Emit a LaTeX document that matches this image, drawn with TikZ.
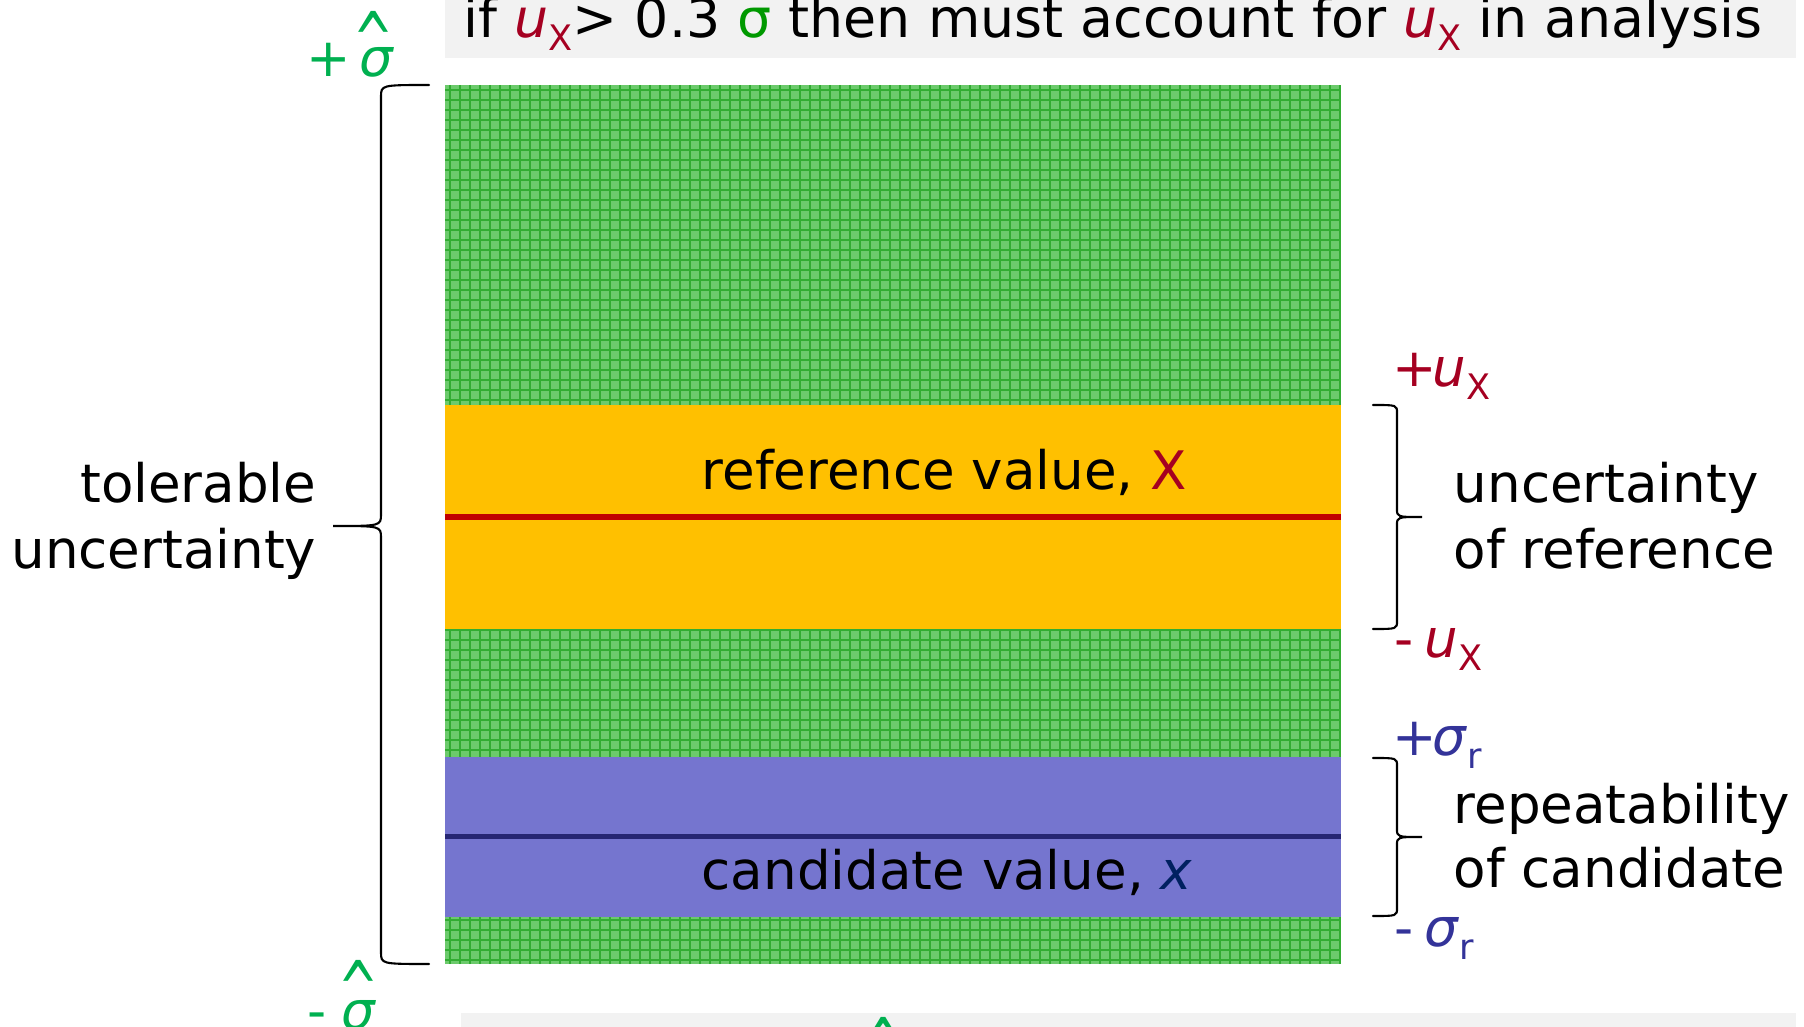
\documentclass[tikz,border=0pt]{standalone}
\usepackage{fontspec}
\setmainfont{DejaVu Sans}
\usepackage{xcolor}
\usepackage{graphicx}
\usepackage{tikz}
\usetikzlibrary{positioning}

\definecolor{bandgreen}{RGB}{108,202,108}
\definecolor{gridgreen}{RGB}{50,172,50}
\definecolor{bandorange}{RGB}{255,192,0}
\definecolor{bandblue}{RGB}{117,117,207}
\definecolor{refline}{RGB}{192,0,0}
\definecolor{candline}{RGB}{38,38,115}
\definecolor{uxred}{RGB}{165,0,33}
\definecolor{sigblue}{RGB}{51,51,153}
\definecolor{candnavy}{RGB}{0,32,96}
\definecolor{hatgreen}{RGB}{0,176,80}
\definecolor{sigmagreen}{RGB}{0,153,0}
\definecolor{bannergray}{RGB}{242,242,242}

\newcommand\lowsub[1]{\raisebox{-0.24em}{\fontsize{10}{10}\selectfont #1}}
\newcommand\hatmark{\scalebox{0.9}[1.45]{\textasciicircum}}
% end x, stem x, tip x, top y, middle y, bottom y, corner
\newcommand\bracepath[7]{%
  \draw[bracestyle] (#1,#4) .. controls (#2,#4) .. (#2,#4+#7) -- (#2,#5-#7)
    .. controls (#2,#5) .. (#3,#5) .. controls (#2,#5) .. (#2,#5+#7)
    -- (#2,#6-#7) .. controls (#2,#6) .. (#1,#6);}

\begin{document}
\begin{tikzpicture}[x=0.1mm, y=-0.1mm,
  lbl/.style={font=\fontsize{15.1}{18}\selectfont, inner sep=0pt},
  bracestyle/.style={line width=0.6pt, line cap=round}]
\useasboundingbox (0,0) rectangle (1804,1027);
\clip (0,0) rectangle (1804,1027);

% banners
\fill[bannergray] (445,-10) rectangle (1796,58);
\fill[bannergray] (461,1013) rectangle (1796,1040);

% bands
\fill[bandgreen] (445,85) rectangle (1341,964);
\draw[gridgreen, line width=0.2mm] (445,964) grid[step=1mm] (1341,85);
\fill[bandorange] (445,405) rectangle (1341,629);
\draw[refline, line width=0.6mm] (445,517) -- (1341,517);
\fill[bandblue] (445,757) rectangle (1341,917);
\draw[candline, line width=0.5mm] (445,836.5) -- (1341,836.5);

\node[lbl, font=\fontsize{15.3}{18}\selectfont, anchor=base west] (cond) at (463,38)
  {if \textcolor{uxred}{\textit{u}\lowsub{X}}> 0.3 \textcolor{sigmagreen}{σ} then must account for \textcolor{uxred}{\textit{u}\lowsub{X}} in analysis};

% sigma hat limits
\node[lbl, anchor=base west, text=hatgreen] (sigtop) at (306,77) {+\hspace{0.16em}\textit{σ}};
\node[lbl, anchor=base, text=hatgreen] (hattop) at (374,68) {\hatmark};
\node[lbl, anchor=base west, text=hatgreen] (sigbot) at (307,1030) {-\kern4.3pt\textit{σ}};
\node[lbl, anchor=base, text=hatgreen] (hatbot) at (359,1017) {\hatmark};
\node[lbl, anchor=base, text=hatgreen] (hatnote) at (884,1073) {\hatmark};

\node[lbl, anchor=base east] (tol) at (317,503) {tolerable};
\node[lbl, anchor=base east] (tolunc) at (317,568) {uncertainty};

\node[lbl, anchor=base west] (refval) at (701,490) {reference value, \textcolor{uxred}{X}};
\node[lbl, anchor=base west] (candval) at (701,890) {candidate value, \textcolor{candnavy}{\textit{x}}};

% right side
\node[lbl, anchor=base west, text=uxred] (uxplus) at (1392,387) {+\kern-1.2pt\textit{u}\lowsub{X}};
\node[lbl, anchor=base west, text=uxred] (uxminus) at (1394,658) {-\hspace{0.2em}\textit{u}\lowsub{X}};
\node[lbl, anchor=base west] (uncref) at (1453,503) {uncertainty};
\node[lbl, anchor=base west] (ofref) at (1453,568) {of reference};
\node[lbl, anchor=base west, text=sigblue] (srplus) at (1392,756) {+\kern-1.2pt\textit{σ}\lowsub{r}};
\node[lbl, anchor=base west, text=sigblue] (srminus) at (1394,947) {-\hspace{0.2em}\textit{σ}\lowsub{r}};
\node[lbl, anchor=base west] (repcand) at (1453,823) {repeatability};
\node[lbl, anchor=base west] (ofcand) at (1453,887) {of candidate};

% braces
\bracepath{429}{381}{333}{85}{526}{964}{12}
\bracepath{1373}{1397}{1422}{405}{517}{629}{8}
\bracepath{1373}{1397}{1422}{758}{837}{916}{8}
\end{tikzpicture}
\end{document}
